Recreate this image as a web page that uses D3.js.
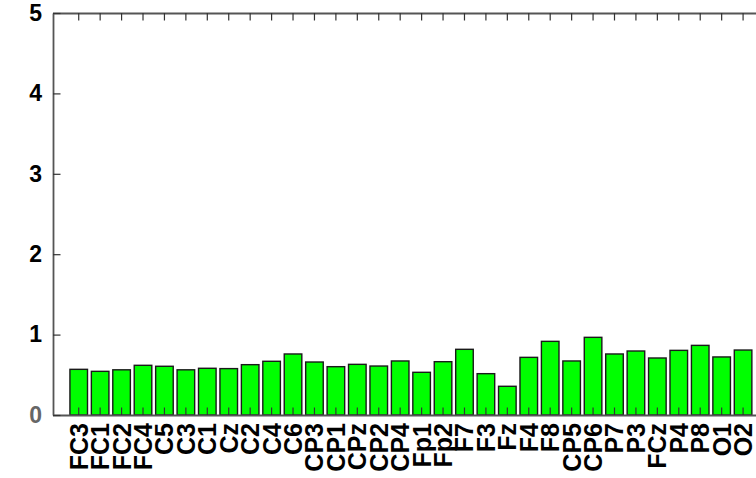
<!DOCTYPE html>
<html>
<head>
<meta charset="utf-8">
<script src="https://cdn.jsdelivr.net/npm/d3@7"></script>
<style>
  html, body { margin: 0; padding: 0; background: #fff; }
  svg { display: block; }
  text { font-family: "Liberation Sans", Arial, Helvetica, sans-serif; font-weight: bold; }
</style>
</head>
<body>
<script>
// Electrode channels and their values
const channels = ["FC3","FC1","FC2","FC4","C5","C3","C1","Cz","C2","C4","C6",
  "CP3","CP1","CPz","CP2","CP4","Fp1","Fp2","F7","F3","Fz","F4","F8",
  "CP5","CP6","P7","P3","FCz","P4","P8","O1","O2"];
const values = [0.568,0.543,0.562,0.618,0.606,0.562,0.581,0.577,0.626,0.668,0.759,
  0.659,0.601,0.630,0.609,0.672,0.531,0.663,0.817,0.514,0.357,0.717,0.916,
  0.672,0.966,0.759,0.796,0.709,0.804,0.866,0.722,0.808];
const yTicks = [0, 1, 2, 3, 4, 5];

const W = 756, H = 478;
const plotLeft = 53, plotTop = 13, plotBottom = 415;

const svg = d3.select("body").append("svg")
  .attr("width", W).attr("height", H);

const x = d3.scaleBand()
  .domain(channels)
  .range([plotLeft, 768.8])
  .paddingInner(0.18)
  .paddingOuter(0.79);

const y = d3.scaleLinear().domain([0, 5]).range([plotBottom, plotTop]);

const axisColor = "#555";

// bars
svg.append("g").selectAll("rect")
  .data(channels)
  .join("rect")
  .attr("x", d => x(d))
  .attr("y", (d, i) => y(values[i]))
  .attr("width", x.bandwidth())
  .attr("height", (d, i) => y(0) - y(values[i]))
  .attr("fill", "#00ff00")
  .attr("stroke", "#1a1a1a")
  .attr("stroke-width", 1.4);

// bottom axis: ticks pointing into the plot, rotated channel labels
const xAxis = d3.axisBottom(x).tickSize(-7.5).tickSizeOuter(0).tickPadding(0);
const gx = svg.append("g").attr("transform", `translate(0,${plotBottom})`).call(xAxis);
gx.select(".domain").attr("stroke", axisColor).attr("stroke-width", 1.8)
  .attr("d", `M${plotLeft},0.5H${W}`);
gx.selectAll(".tick line").attr("stroke", "#333").attr("stroke-width", 1.2);
gx.selectAll(".tick text")
  .attr("transform", "rotate(-90)")
  .attr("x", -8)
  .attr("y", 0)
  .attr("dy", "0.36em")
  .attr("text-anchor", "end")
  .style("font-size", "25px")
  .attr("fill", "#000");

// top axis: mirror ticks, no labels
const xTop = d3.axisTop(x).tickSize(-7.5).tickSizeOuter(0).tickFormat("");
const gt = svg.append("g").attr("transform", `translate(0,${plotTop})`).call(xTop);
gt.select(".domain").attr("stroke", axisColor).attr("stroke-width", 1.8)
  .attr("d", `M${plotLeft},0.5H${W}`);
gt.selectAll(".tick line").attr("stroke", "#333").attr("stroke-width", 1.2);

// left axis
const yAxis = d3.axisLeft(y).tickValues(yTicks).tickFormat(d3.format("d"))
  .tickSize(-7.5).tickSizeOuter(0).tickPadding(11);
const gy = svg.append("g").attr("transform", `translate(${plotLeft},0)`).call(yAxis);
gy.select(".domain").attr("stroke", axisColor).attr("stroke-width", 1.8);
gy.selectAll(".tick line").attr("stroke", "#333").attr("stroke-width", 1.2);
gy.selectAll(".tick text")
  .style("font-size", "23px")
  .attr("fill", d => d === 0 ? "#666" : "#000");
</script>
</body>
</html>
